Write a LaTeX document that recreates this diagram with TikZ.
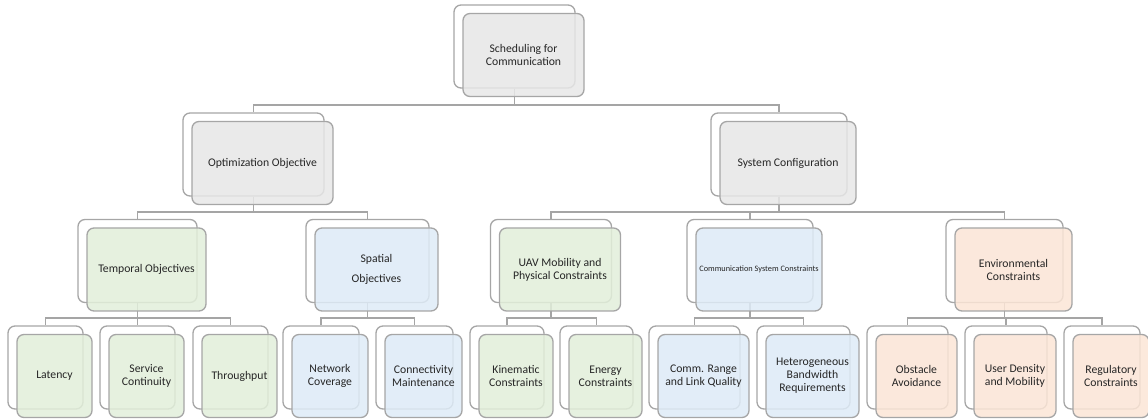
\documentclass[tikz,border=0pt]{standalone}
\usepackage{fontspec}
\setmainfont{Carlito}
\usetikzlibrary{calc}
\pgfdeclarelayer{background}
\pgfsetlayers{background,main}

\definecolor{edge}{HTML}{A6A6A6}
\definecolor{linkgrey}{HTML}{A5A5A5}
\definecolor{greyfill}{HTML}{E7E7E7}
\definecolor{greenfill}{HTML}{E2EFDA}
\definecolor{bluefill}{HTML}{DEEBF7}
\definecolor{peachfill}{HTML}{FBE5D6}
\definecolor{ink}{HTML}{262626}

\tikzset{
  backbox/.style={draw=edge, line width=1.3pt, fill=white, rounded corners=7pt, inner sep=0pt},
  frontbox/.style={draw=edge, line width=1.3pt, rounded corners=7pt, fill opacity=0.85,
    text opacity=1, align=center, text=ink, inner sep=0pt,
    font=\fontsize{11.7}{13}\selectfont},
  linkline/.style={draw=linkgrey, line width=1.8pt},
}

% back card centred at (#2,#3), front card shifted down-right
\newcommand{\card}[7]{%
  \node[backbox, minimum width=#4pt, minimum height=#5pt] (#1-b) at (#2,#3) {};
  \node[frontbox, fill=#6, minimum width=#4pt, minimum height=#5pt] (#1) at (#2+9,#3+8.5) {#7};
}
% connector from a parent card to a child card through a bus line
\newcommand{\joint}[3]{%
  \draw[linkline] (#1-b.south) -- (#1-b.south |- #3) -| (#2-b.north);
}

\begin{document}
\begin{tikzpicture}[x=1pt,y=-1pt]
\useasboundingbox (0,0) rectangle (1148,419);

\coordinate (bus0) at (0,105);
\coordinate (bus1) at (0,212);
\coordinate (bus2) at (0,318);

% root
\card{root}{514.5}{46.5}{121}{83}{greyfill}{Scheduling for\\Communication}

% first level
\card{opt}{253.5}{154.5}{141}{83}{greyfill}{Optimization Objective}
\card{sys}{779}{154.5}{136}{83}{greyfill}{System Configuration}

% second level
\card{temp}{137.5}{261}{119}{83}{greenfill}{Temporal Objectives}
\card{spat}{367.5}{261}{123}{83}{bluefill}{Spatial\\[7pt]Objectives}
\card{uav}{551}{261}{121}{83}{greenfill}{UAV Mobility and\\Physical Constraints}
\card{comm}{750}{261}{126}{83}{bluefill}{\fontsize{8.3}{10}\selectfont Communication System Constraints}
\card{env}{1004.5}{261}{117}{83}{peachfill}{Environmental\\Constraints}

% third level
\card{lat}{45.5}{367.5}{75}{83}{greenfill}{Latency}
\card{serv}{137.5}{367.5}{75}{83}{greenfill}{Service\\Continuity}
\card{thr}{230.5}{367.5}{75}{83}{greenfill}{Throughput}
\card{cov}{321}{367.5}{76}{83}{bluefill}{Network\\Coverage}
\card{conn}{414.5}{367.5}{77}{83}{bluefill}{Connectivity\\Maintenance}
\card{kin}{507}{367.5}{74}{83}{greenfill}{Kinematic\\Constraints}
\card{ene}{596.5}{367.5}{73}{83}{greenfill}{Energy\\Constraints}
\card{range}{694.5}{367.5}{91}{83}{bluefill}{Comm. Range\\and Link Quality}
\card{band}{803.5}{367.5}{93}{83}{bluefill}{Heterogeneous\\Bandwidth\\Requirements}
\card{obs}{907.5}{367.5}{81}{83}{peachfill}{Obstacle\\Avoidance}
\card{dens}{1006}{367.5}{82}{83}{peachfill}{User Density\\and Mobility}
\card{reg}{1102}{367.5}{76}{83}{peachfill}{Regulatory\\Constraints}

\begin{pgfonlayer}{background}
  \joint{root}{opt}{bus0}
  \joint{root}{sys}{bus0}
  \joint{opt}{temp}{bus1}
  \joint{opt}{spat}{bus1}
  \joint{sys}{uav}{bus1}
  \joint{sys}{comm}{bus1}
  \joint{sys}{env}{bus1}
  \joint{temp}{lat}{bus2}
  \joint{temp}{serv}{bus2}
  \joint{temp}{thr}{bus2}
  \joint{spat}{cov}{bus2}
  \joint{spat}{conn}{bus2}
  \joint{uav}{kin}{bus2}
  \joint{uav}{ene}{bus2}
  \joint{comm}{range}{bus2}
  \joint{comm}{band}{bus2}
  \joint{env}{obs}{bus2}
  \joint{env}{dens}{bus2}
  \joint{env}{reg}{bus2}
\end{pgfonlayer}
\end{tikzpicture}
\end{document}
